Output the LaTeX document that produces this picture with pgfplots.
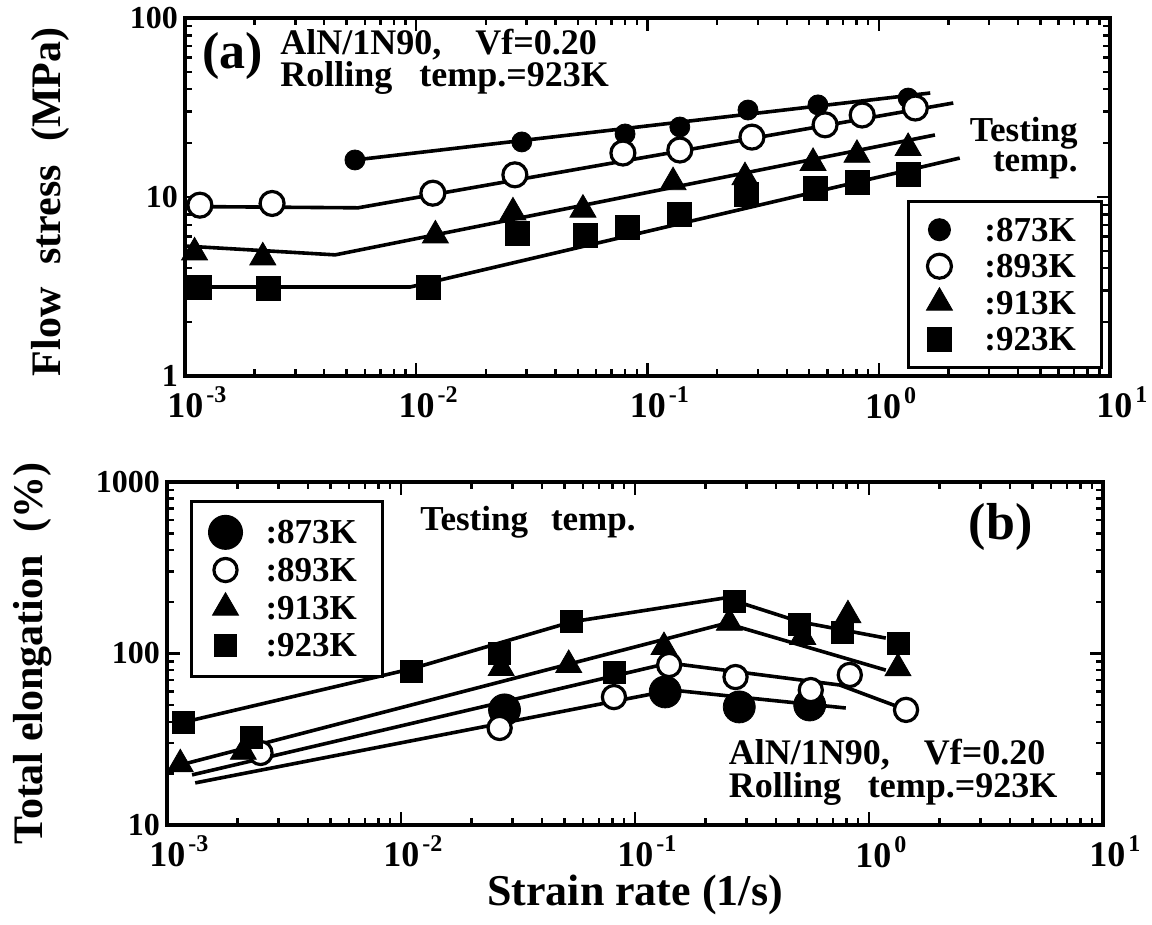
\documentclass[border=0pt]{standalone}
\usepackage{fontspec}
\setmainfont{Liberation Serif}
\usepackage{pgfplots}
\pgfplotsset{compat=1.18}

\newcommand{\fs}[1]{\fontsize{#1}{#1}\selectfont\bfseries}
\newcommand{\dec}[1]{10\hspace{1.5pt}\raisebox{7.5pt}{\fs{12}#1}}
% two stacked lines, baseline of the first one is the node baseline
\newcommand{\twolines}[3]{\vtop{\baselineskip=#1\hbox{#2}\hbox{#3}}}

\pgfplotsset{
  trend/.style={black, line width=1.8pt, forget plot},
}

\begin{document}
\begin{tikzpicture}
\useasboundingbox (0,0) rectangle (576pt,462.5pt);

% (a) flow stress
\begin{axis}[at={(92.5pt,274.5pt)}, anchor=south west,
  scale only axis, width=462.5pt, height=179pt,
  xmode=log, ymode=log,
  xmin=1e-3, xmax=10,
  xtick={1e-3,1e-2,1e-1,1,10},
  xticklabels={\dec{-3},\dec{-2},\dec{-1},\dec{0},\dec{1}},
  x tick label style={font=\fs{18}, xshift=6pt, yshift=-2pt},
  y tick label style={font=\fs{16}},
  axis line style={line width=1.8pt},
  every tick/.style={black, line width=1.2pt},
  major tick length=6.5pt, minor tick length=3.5pt,
  clip=false,
  legend cell align=left,
  legend style={draw=black, line width=1.5pt, fill=white, font=\fs{17.5},
    inner xsep=9pt, inner ysep=5pt, column sep=12pt,
    nodes={inner xsep=4pt, inner ysep=3.3pt, text depth=0pt},
    at={(0.7805,0.4916)}, anchor=north west},
  ymin=1, ymax=100, ytick={1,10,100}, yticklabels={1,10,100},
  ylabel={Flow\hspace{0.55em}stress\hspace{0.55em}(MPa)},
  ylabel style={font=\fs{21}, at={(rel axis cs:-0.146,0.486)}, anchor=center},
]
\addplot[only marks, mark=*, mark size=5pt, black] coordinates {
  (0.00543,16.1) (0.0286,20.3) (0.080,22.5) (0.138,24.6) (0.272,30.6) (0.546,32.7) (1.34,35.7)};
\addlegendentry{:873K}
\addplot[only marks, mark=*, mark size=6pt, mark options={fill=white, draw=black, line width=1.6pt}] coordinates {
  (0.00116,9.0) (0.00238,9.2) (0.0118,10.5) (0.0267,13.3) (0.0783,17.6) (0.138,18.3) (0.283,21.6) (0.586,25.3) (0.848,28.7) (1.44,31.4)};
\addlegendentry{:893K}
\addplot[only marks, mark=triangle*, mark size=7.5pt, black, mark options={line width=0.4pt}] coordinates {
  (0.0011,4.9) (0.00217,4.6) (0.0121,6.1) (0.0262,8.2) (0.0526,8.5) (0.129,12.1) (0.264,12.9) (0.52,15.5) (0.805,17.2) (1.34,18.8)};
\addlegendentry{:913K}
\addplot[only marks, mark=square*, mark size=6pt, black, mark options={line width=0.4pt}] coordinates {
  (0.00116,3.14) (0.00229,3.1) (0.01124,3.14) (0.0273,6.3) (0.0537,6.14) (0.0815,6.8) (0.138,8.0) (0.269,10.4) (0.53,11.1) (0.805,12.1) (1.34,13.4)};
\addlegendentry{:923K}
\addplot[trend] coordinates {(0.00543,16.1) (1.67,38.1)};
\addplot[trend] coordinates {(0.001,8.85) (0.0056,8.7) (2.10,33.5)};
\addplot[trend] coordinates {(0.001,5.32) (0.00446,4.75) (1.75,22.2)};
\addplot[trend] coordinates {(0.001,3.14) (0.0094,3.14) (2.24,16.5)};
\node[anchor=base west, font=\fs{26}, inner sep=0pt] at (rel axis cs:0.0184,0.860) {(a)};
\node[anchor=base west, font=\fs{18}, inner sep=0pt] at (rel axis cs:0.1027,0.8966)
  {\twolines{16pt}{AlN/1N90,\hspace{17pt}Vf=0.20}{Rolling\hspace{13.5pt}temp.=923K}};
\node[anchor=base east, font=\fs{17.5}, inner sep=0pt] at (rel axis cs:0.9654,0.6536)
  {\twolines{15pt}{\hbox to 58pt{\hfill Testing}}{\hbox to 58pt{\hfill temp.}}};
\end{axis}

% (b) total elongation
\begin{axis}[at={(83.5pt,50pt)}, anchor=south west,
  scale only axis, width=468pt, height=171.5pt,
  xmode=log, ymode=log,
  xmin=1e-3, xmax=10,
  xtick={1e-3,1e-2,1e-1,1,10},
  xticklabels={\dec{-3},\dec{-2},\dec{-1},\dec{0},\dec{1}},
  x tick label style={font=\fs{18}, xshift=6pt, yshift=-2pt},
  y tick label style={font=\fs{16}},
  axis line style={line width=1.8pt},
  every tick/.style={black, line width=1.2pt},
  major tick length=6.5pt, minor tick length=3.5pt,
  clip=false,
  legend cell align=left,
  legend style={draw=black, line width=1.5pt, fill=white, font=\fs{17.5},
    inner xsep=9pt, inner ysep=6pt, column sep=8pt,
    nodes={inner xsep=4pt, inner ysep=3.6pt, text depth=0pt},
    at={(0.0246,0.9475)}, anchor=north west},
  ymin=10, ymax=1000, ytick={10,100,1000}, yticklabels={10,100,1000},
  ylabel={Total elongation\hspace{0.55em}(\%)},
  ylabel style={font=\fs{21}, at={(rel axis cs:-0.144,0.501)}, anchor=center},
  xlabel={Strain rate (1/s)},
  xlabel style={font=\fs{22}, at={(rel axis cs:0.5,-0.205)}, anchor=center},
]
\addplot[only marks, mark=*, mark size=8pt, black] coordinates {
  (0.0277,46.9) (0.1346,59.7) (0.279,48.8) (0.558,50.1)};
\addlegendentry{:873K}
\addplot[only marks, mark=*, mark size=5.8pt, mark options={fill=white, draw=black, line width=1.6pt}] coordinates {
  (0.00251,26.3) (0.0264,36.8) (0.0813,55.7) (0.140,85.7) (0.269,72.9) (0.564,61.2) (0.828,75) (1.44,46.9)};
\addlegendentry{:893K}
\addplot[only marks, mark=triangle*, mark size=7.5pt, black, mark options={line width=0.4pt}] coordinates {
  (0.00114,22.6) (0.00212,26.7) (0.0268,82.2) (0.0521,85.7) (0.133,109) (0.253,151) (0.521,125) (0.813,167) (1.33,82)};
\addlegendentry{:913K}
\addplot[only marks, mark=square*, mark size=5.5pt, black, mark options={line width=0.4pt}] coordinates {
  (0.00117,39.9) (0.0023,32.6) (0.01104,79.1) (0.0264,100.7) (0.0537,153) (0.0813,78) (0.266,200) (0.506,147) (0.773,132) (1.33,115)};
\addlegendentry{:923K}
\addplot[trend] coordinates {(0.00132,17.6) (0.144,61.2) (0.796,48.1)};
\addplot[trend] coordinates {(0.00128,19.6) (0.14,88) (0.75,65.5) (1.44,47)};
\addplot[trend] coordinates {(0.00123,23) (0.245,150) (1.18,80)};
\addplot[trend] coordinates {(0.00119,39.9) (0.01104,81.3) (0.0537,153) (0.243,211) (0.506,153) (1.18,123)};
\node[anchor=base west, font=\fs{17.5}, inner sep=0pt] at (rel axis cs:0.2703,0.860) {Testing\hspace{11.5pt}temp.};
\node[anchor=base east, font=\fs{26}, inner sep=0pt] at (rel axis cs:0.925,0.831) {(b)};
\node[anchor=base west, font=\fs{18}, inner sep=0pt] at (rel axis cs:0.600,0.175)
  {\twolines{16.5pt}{AlN/1N90,\hspace{17pt}Vf=0.20}{Rolling\hspace{13.5pt}temp.=923K}};
\end{axis}
\end{tikzpicture}
\end{document}
